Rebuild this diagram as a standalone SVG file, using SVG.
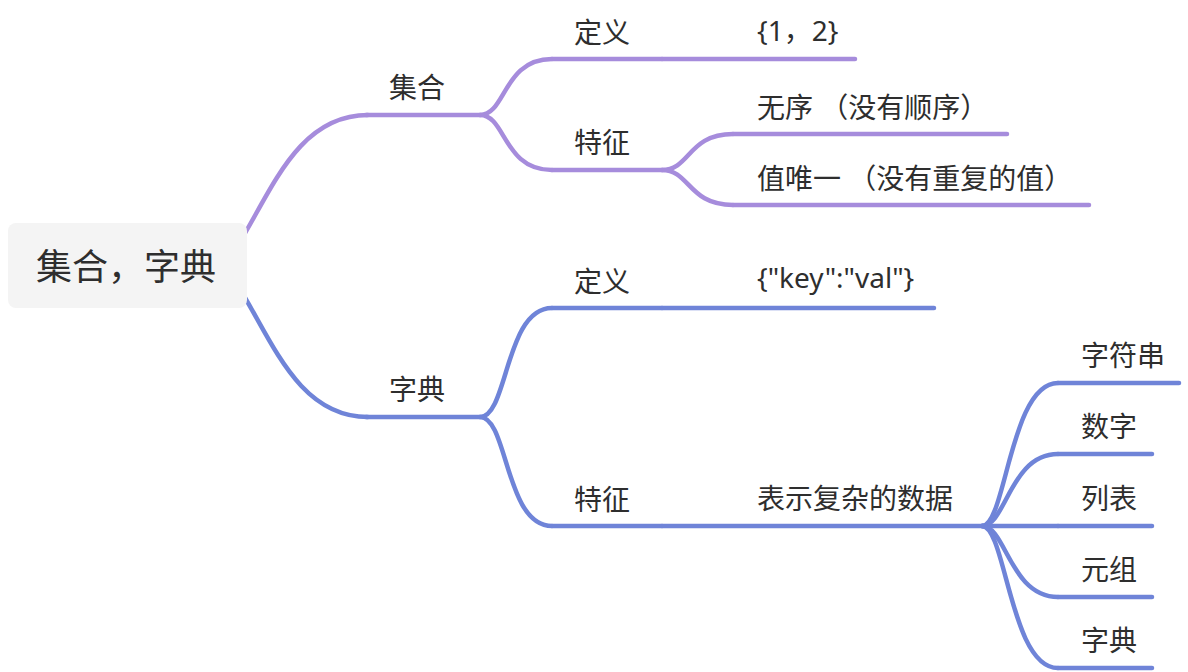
<svg xmlns="http://www.w3.org/2000/svg" width="1188" height="672" viewBox="0 0 1188 672">
<style>
text{font-family:"Noto Sans","Noto Sans CJK SC",sans-serif;font-size:28px;fill:#2e2e2e}
.root{font-size:36px}
.p{stroke:#a68cdc;stroke-width:4.5;fill:none;stroke-linecap:round}
.b{stroke:#6f84d8;stroke-width:4.5;fill:none;stroke-linecap:round}
</style>
<rect width="1188" height="672" fill="#ffffff"/>
<g id="connectors">
<path class="p" d="M238 245 C272 190 298 115 368 115"/>
<path class="b" d="M238 286 C272 340 298 417 368 417"/>
<path class="p" d="M480 115 C506 115 503 59 552 59"/>
<path class="p" d="M480 115 C506 115 503 170 552 170"/>
<path class="b" d="M480 417 C508 417 505 308 552 308"/>
<path class="b" d="M480 417 C508 417 505 526 552 526"/>
<path class="p" d="M662 170 C690 170 688 134 733 134"/>
<path class="p" d="M662 170 C690 170 688 205 733 205"/>
<path class="b" d="M982 526 C1006 526 1010 383 1058 383"/>
<path class="b" d="M982 526 C1006 526 1010 454 1058 454"/>
<path class="b" d="M982 526 L1058 526"/>
<path class="b" d="M982 526 C1006 526 1010 597 1058 597"/>
<path class="b" d="M982 526 C1006 526 1010 668 1058 668"/>
</g>
<g id="root">
<rect x="8" y="223" width="239" height="85" rx="8" fill="#f4f4f4"/>
<text class="root" x="36" y="280">集合，字典</text>
</g>
<g id="n-jihe">
<path class="p" d="M366 115 H480"/>
<text x="389" y="98">集合</text>
</g>
<g id="n-jihe-dingyi">
<path class="p" d="M552 59 H662"/>
<text x="574" y="43">定义</text>
</g>
<g id="n-jihe-val">
<path class="p" d="M662 59 H855"/>
<text x="757" y="41">{1，2}</text>
</g>
<g id="n-jihe-tezheng">
<path class="p" d="M552 170 H662"/>
<text x="574" y="153">特征</text>
</g>
<g id="n-wuxu">
<path class="p" d="M733 134 H1007"/>
<text x="757" y="118">无序 （没有顺序）</text>
</g>
<g id="n-weiyi">
<path class="p" d="M733 205 H1089"/>
<text x="757" y="189">值唯一 （没有重复的值）</text>
</g>
<g id="n-zidian">
<path class="b" d="M366 417 H480"/>
<text x="389" y="400">字典</text>
</g>
<g id="n-zidian-dingyi">
<path class="b" d="M552 308 H662"/>
<text x="574" y="292">定义</text>
</g>
<g id="n-zidian-val">
<path class="b" d="M662 308 H934"/>
<text x="757" y="288">{"key":"val"}</text>
</g>
<g id="n-zidian-tezheng">
<path class="b" d="M552 526 H662"/>
<text x="574" y="510">特征</text>
</g>
<g id="n-fuza">
<path class="b" d="M662 526 H982"/>
<text x="757" y="509">表示复杂的数据</text>
</g>
<g id="n-str">
<path class="b" d="M1058 383 H1179"/>
<text x="1081" y="366">字符串</text>
</g>
<g id="n-num">
<path class="b" d="M1058 454 H1152"/>
<text x="1081" y="437">数字</text>
</g>
<g id="n-list">
<path class="b" d="M1058 526 H1152"/>
<text x="1081" y="509">列表</text>
</g>
<g id="n-tuple">
<path class="b" d="M1058 597 H1152"/>
<text x="1081" y="580">元组</text>
</g>
<g id="n-dict">
<path class="b" d="M1058 668 H1152"/>
<text x="1081" y="651">字典</text>
</g>
</svg>
